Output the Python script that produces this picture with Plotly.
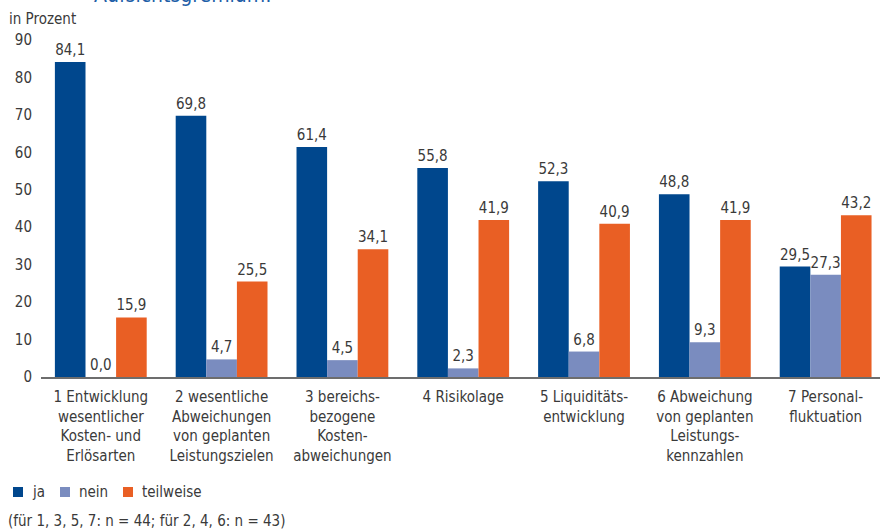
import plotly.graph_objects as go

categories = [
    "1 Entwicklung<br>wesentlicher<br>Kosten- und<br>Erlösarten",
    "2 wesentliche<br>Abweichungen<br>von geplanten<br>Leistungszielen",
    "3 bereichs-<br>bezogene<br>Kosten-<br>abweichungen",
    "4 Risikolage",
    "5 Liquiditäts-<br>entwicklung",
    "6 Abweichung<br>von geplanten<br>Leistungs-<br>kennzahlen",
    "7 Personal-<br>fluktuation",
]
series_names = ["ja", "nein", "teilweise"]
ja = [84.1, 69.8, 61.4, 55.8, 52.3, 48.8, 29.5]
nein = [0.0, 4.7, 4.5, 2.3, 6.8, 9.3, 27.3]
teilweise = [15.9, 25.5, 34.1, 41.9, 40.9, 41.9, 43.2]
y_ticks = [0, 10, 20, 30, 40, 50, 60, 70, 80, 90]

FONT = "Liberation Sans Narrow, DejaVu Sans Condensed, Arial Narrow, sans-serif"
TXT = "#3a3a3a"
COLORS = ["#00478d", "#7a8cbf", "#e95f24"]

# plot area geometry in pixels (used to place the hand-drawn legend and notes)
W, H = 880, 529
ML, MT, MB = 41, 40, 152
PW, PH = W - ML, H - MT - MB


def px_x(px):
    return (px - ML) / PW


def px_y(py):
    return (MT + PH - py) / PH


def fmt(v):
    return f"{v:.1f}".replace(".", ",")


x = list(range(len(categories)))
fig = go.Figure()
for name, vals, col in zip(series_names, [ja, nein, teilweise], COLORS):
    fig.add_trace(go.Bar(
        x=x, y=vals, name=name, marker=dict(color=col, line=dict(width=0)),
        text=[fmt(v) for v in vals], textposition="outside",
        textfont=dict(family=FONT, size=15, color=TXT), cliponaxis=False,
        showlegend=False,
    ))

annotations = [
    dict(text="in Prozent", xref="paper", yref="paper", x=px_x(7), y=px_y(30),
         xanchor="left", yanchor="bottom", showarrow=False,
         font=dict(family=FONT, size=15, color=TXT)),
    dict(text="(für 1, 3, 5, 7: n = 44; für 2, 4, 6: n = 43)", xref="paper",
         yref="paper", x=px_x(6), y=px_y(510), xanchor="left", yanchor="top",
         showarrow=False, font=dict(family=FONT, size=15, color=TXT)),
    dict(text="Aufsichtsgremium:", xref="paper", yref="paper", x=px_x(92),
         y=px_y(9), xanchor="left", yanchor="bottom", showarrow=False,
         font=dict(family=FONT, size=21, color="#1f5fa8")),
]

# legend: colour squares followed by the series names
shapes = []
legend_x = [13, 60, 123]
for lx, name, col in zip(legend_x, series_names, COLORS):
    shapes.append(dict(type="rect", xref="paper", yref="paper",
                       x0=px_x(lx), x1=px_x(lx + 10), y0=px_y(497), y1=px_y(487),
                       fillcolor=col, line=dict(width=0)))
    annotations.append(dict(text=name, xref="paper", yref="paper",
                            x=px_x(lx + 17), y=px_y(492), xanchor="left",
                            yanchor="middle", showarrow=False,
                            font=dict(family=FONT, size=15, color=TXT)))

fig.update_layout(
    width=W, height=H,
    margin=dict(l=ML, r=0, t=MT, b=MB),
    paper_bgcolor="white", plot_bgcolor="white",
    barmode="group", bargap=0.24, bargroupgap=0,
    font=dict(family=FONT, size=15, color=TXT),
    xaxis=dict(
        tickmode="array", tickvals=x, ticktext=categories,
        range=[-0.495, 6.45], showgrid=False, zeroline=False,
        showline=True, linecolor="#6d6d6d", linewidth=2, ticks="",
        ticklabelstandoff=5,
        tickfont=dict(family=FONT, size=15, color=TXT),
    ),
    yaxis=dict(
        range=[0, 90], tickvals=y_ticks, showgrid=False, zeroline=False,
        showline=False, ticks="", ticklabelstandoff=8,
        tickfont=dict(family=FONT, size=15, color=TXT),
    ),
    showlegend=False,
    shapes=shapes,
    annotations=annotations,
)

fig.write_html("out.html")
